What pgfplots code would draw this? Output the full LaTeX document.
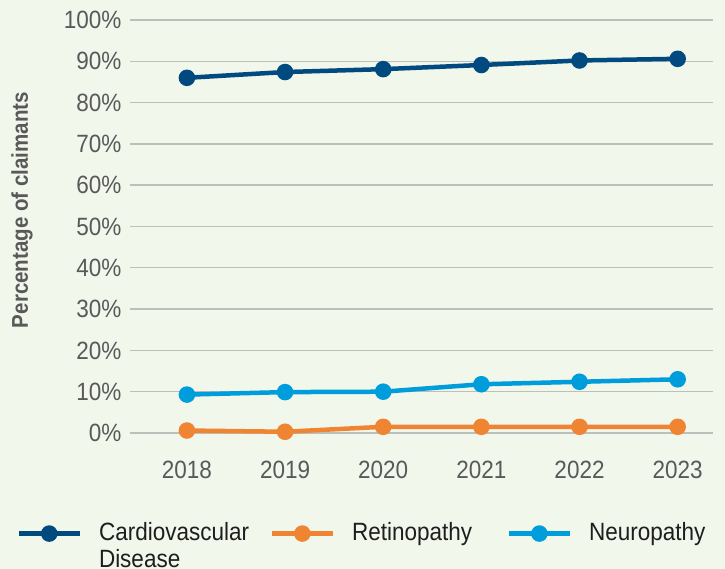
\documentclass[border=0pt]{standalone}
\usepackage{fontspec}
\setmainfont{Liberation Sans}[FakeStretch=0.9]
\usepackage{pgfplots}
\pgfplotsset{compat=1.18}
\definecolor{bg}{HTML}{F2F7EC}
\definecolor{cardio}{HTML}{004A80}
\definecolor{retino}{HTML}{EF8532}
\definecolor{neuro}{HTML}{009DDC}
\definecolor{lbl}{HTML}{595959}
\definecolor{legtxt}{HTML}{1E1E1E}
\definecolor{gridc}{HTML}{BDBFBA}
\begin{document}
\begin{tikzpicture}[x=1pt,y=1pt]
\fill[bg] (0,0) rectangle (725,569);
\begin{axis}[
  at={(130pt,136pt)}, anchor=south west,
  scale only axis, width=583pt, height=413pt,
  xmin=2017.42, xmax=2023.36, ymin=0, ymax=100,
  clip=false,
  axis line style={draw=none},
  ymajorgrids, grid style={gridc, line width=1.4pt},
  major tick length=0pt,
  xtick={2018,2019,2020,2021,2022,2023},
  xticklabels={2018,2019,2020,2021,2022,2023},
  ytick={0,10,...,100},
  yticklabel={\pgfmathprintnumber{\tick}\%},
  /pgf/number format/assume math mode=true,
  tick label style={font=\fontsize{25}{28}\selectfont, text=lbl},
  x tick label style={yshift=-25pt},
  y tick label style={xshift=-5pt},
  ylabel={\textbf{Percentage of claimants}},
  ylabel style={font=\fontsize{22.8}{26}\selectfont, text=lbl, at={(axis description cs:-0.185,0.54)}, anchor=center},
  legend columns=3,
  legend style={at={(-0.195,-0.212)}, anchor=north west, draw=none, fill=none, inner sep=0pt,
    font=\fontsize{25}{27}\selectfont, text=legtxt, cells={anchor=base west},
    /tikz/every odd column/.append style={column sep=15pt},
    /tikz/column 2/.append style={column sep=18.5pt},
    /tikz/column 4/.append style={column sep=32.5pt}},
  legend image code/.code={\draw[#1,mark repeat=2,mark phase=2] plot coordinates {(0pt,7.3pt) (30.5pt,7.3pt) (61pt,7.3pt)};},
  every axis plot/.append style={line width=4.5pt, mark=*, mark size=6pt, mark options={solid}},
]
\addplot[cardio] coordinates {(2018,86.0) (2019,87.4) (2020,88.1) (2021,89.1) (2022,90.2) (2023,90.6)};
\addlegendentry{\vtop{\baselineskip=27pt\hbox{Cardiovascular}\hbox{Disease}}}
\addplot[retino] coordinates {(2018,0.6) (2019,0.3) (2020,1.5) (2021,1.5) (2022,1.5) (2023,1.5)};
\addlegendentry{Retinopathy}
\addplot[neuro] coordinates {(2018,9.3) (2019,9.9) (2020,10.0) (2021,11.8) (2022,12.4) (2023,13.0)};
\addlegendentry{Neuropathy}
\end{axis}
\pgfresetboundingbox
\useasboundingbox (0,0) rectangle (725,569);
\end{tikzpicture}
\end{document}
